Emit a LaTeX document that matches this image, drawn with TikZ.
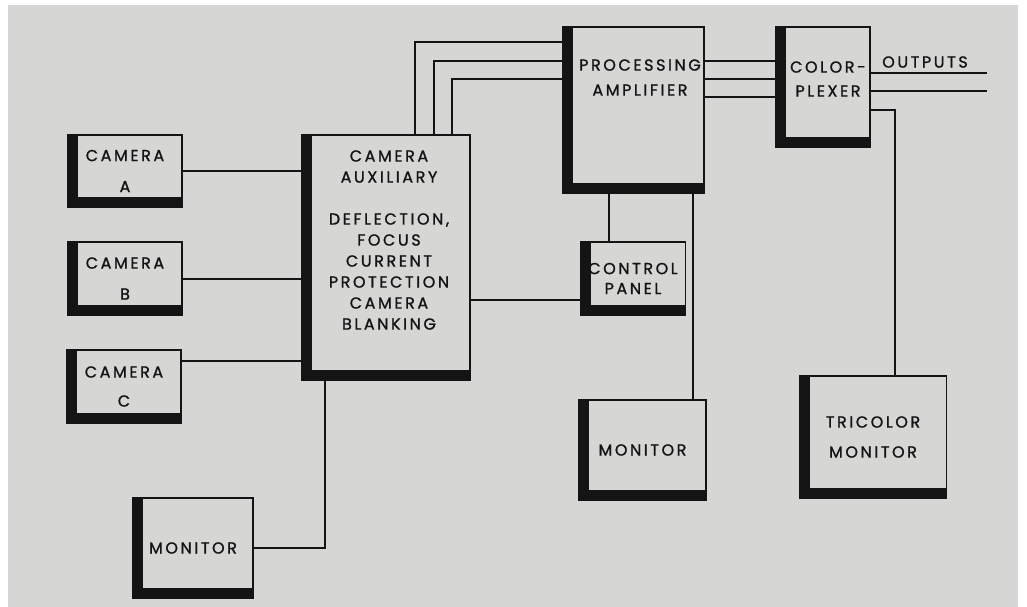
\documentclass[tikz,border=0pt]{standalone}
\usepackage{fontspec}
\setmainfont{Poppins}[LetterSpace=16, FakeBold=1.2]
\usetikzlibrary{calc}
\definecolor{paper}{RGB}{214,214,212}
\definecolor{ink}{RGB}{20,20,20}
\tikzset{
  every picture/.style={color=ink},
  box/.style={draw=ink, line width=1.6pt, fill=paper, inner sep=0pt, align=center,
    font=\fontsize{16}{21}\selectfont,
    path picture={
      \fill[ink] (path picture bounding box.south west) rectangle ([xshift=10pt]path picture bounding box.north west);
      \fill[ink] (path picture bounding box.south west) rectangle ([yshift=10pt]path picture bounding box.south east);
    }},
  txt/.style={align=center, inner sep=0pt, font=\fontsize{16}{21}\selectfont},
  wire/.style={line width=2pt},
}
\begin{document}
\begin{tikzpicture}[x=1pt, y=-1pt]
  \useasboundingbox (0,0) rectangle (1027,607);
  \fill[white] (0,0) rectangle (1027,607);
  \fill[paper] (8,5) rectangle (1018,607);
  % cameras on the left, auxiliary in the middle
  \node[box, minimum width=114pt, minimum height=72pt] (camA) at (125,171) {CAMERA\\[10pt]A};
  \node[box, minimum width=114pt, minimum height=73pt] (camB) at (125,278.5) {CAMERA\\[10pt]B};
  \node[box, minimum width=114pt, minimum height=73pt] (camC) at (124,386.5) {CAMERA\\[8pt]C};
  \node[box, minimum width=168pt, minimum height=245pt] (aux) at (386,257.5) {};
  \node[txt] (auxT) at (389,240) {CAMERA\\AUXILIARY\\[21pt]DEFLECTION,\\FOCUS\\CURRENT\\PROTECTION\\CAMERA\\BLANKING};
  \node[box, minimum width=120pt, minimum height=100pt] (mon1) at (193,548) {MONITOR};
  % processing chain
  \node[box, minimum width=141pt, minimum height=166pt] (proc) at (633.5,110) {};
  \node[txt, font=\fontsize{16}{25}\selectfont] (procT) at (640,77.5) {PROCESSING\\AMPLIFIER};
  \node[box, minimum width=105pt, minimum height=73pt, font=\fontsize{16}{20}\selectfont] (panel) at (633,278.5) {CONTROL\\PANEL};
  \node[box, minimum width=127pt, minimum height=100pt] (mon2) at (642.5,450) {MONITOR};
  \node[box, minimum width=94pt, minimum height=120pt] (plex) at (823,87) {};
  \node[txt, font=\fontsize{16}{24}\selectfont] (plexT) at (828,79) {COLOR-\\PLEXER};
  \node[box, minimum width=147pt, minimum height=122pt, font=\fontsize{16}{30}\selectfont] (tri) at (873,437) {TRICOLOR\\MONITOR};
  \node[txt] (outT) at (925,62) {OUTPUTS};
  % levels of the wires
  \coordinate (yC) at (0,361);
  \coordinate (yP) at (0,300);
  \coordinate (t1) at (415,42);
  \coordinate (t2) at (434,61);
  \coordinate (t3) at (452,79);
  \coordinate (p3) at (0,97);
  \coordinate (o1) at (987,73);
  \coordinate (o2) at (987,91);
  \coordinate (tm) at (895,110);
  \coordinate (k1) at (609,0);
  \coordinate (k2) at (693,0);
  \coordinate (k3) at (325,0);
  \draw[wire] (camA.east) -- (aux.west |- camA.east);
  \draw[wire] (camB.east) -- (aux.west |- camB.east);
  \draw[wire] (camC.east |- yC) -- (aux.west |- yC);
  \draw[wire] (aux.east |- yP) -- (panel.west |- yP);
  \foreach \t in {t1,t2,t3} { \draw[wire] (aux.north -| \t) |- (proc.west |- \t); }
  \foreach \t in {t2,t3,p3} { \draw[wire] (proc.east |- \t) -- (plex.west |- \t); }
  \foreach \o in {o1,o2} { \draw[wire] (plex.east |- \o) -- (\o); }
  \draw[wire] (plex.east |- tm) -| (tri.north -| tm);
  \draw[wire] (proc.south -| k1) -- (panel.north -| k1);
  \draw[wire] (proc.south -| k2) -- (mon2.north -| k2);
  \draw[wire] (mon1.east) -| (aux.south -| k3);
\end{tikzpicture}
\end{document}
